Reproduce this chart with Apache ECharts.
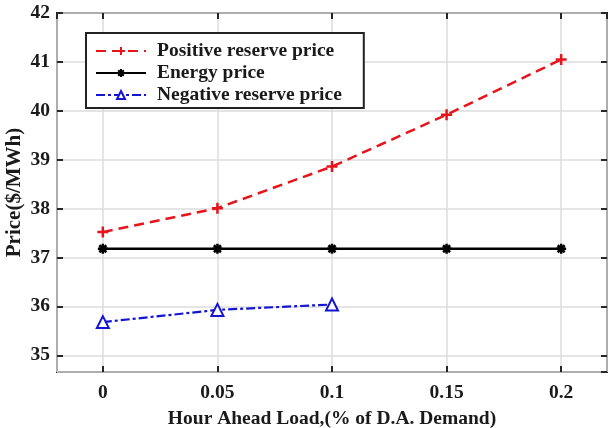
<!DOCTYPE html>
<html>
<head>
<meta charset="utf-8">
<script src="https://cdn.jsdelivr.net/npm/echarts@6/dist/echarts.min.js"></script>
<style>
  html, body { margin: 0; padding: 0; background: #fff; }
  #chart { width: 608px; height: 428px; }
</style>
</head>
<body>
<div id="chart"></div>
<script>
// Hour-ahead load levels (fraction of day-ahead demand)
const loads = [0, 0.05, 0.1, 0.15, 0.2];
// Prices in $/MWh
const positiveReserve = [37.52, 38.01, 38.86, 39.92, 41.05];
const energyPrice = [37.18, 37.18, 37.18, 37.18, 37.18];
const negativeReserve = [35.68, 35.93, 36.04];

const seriesNames = ['Positive reserve price', 'Energy price', 'Negative reserve price'];
const xTitle = 'Hour Ahead Load,(% of D.A. Demand)';
const yTitle = 'Price($/MWh)';

const FONT = '"Liberation Serif", "Times New Roman", serif';
const FS = 19.5;
const INK = '#1a1a1a';
const RED = '#e8141b';
const BLUE = '#1414d2';

const pairs = (xs, ys) => ys.map((v, i) => [xs[i], v]);

const plusSymbol = 'path://M0,-5L0,5M-5,0L5,0';
const starSymbol = 'path://M0,-5L0,5M-5,0L5,0M-3.5,-3.5L3.5,3.5M-3.5,3.5L3.5,-3.5';

const chart = echarts.init(document.getElementById('chart'), null, { renderer: 'canvas' });

const tickFmt = v => String(+v.toFixed(2));
const tickStyle = { inside: true, length: 6, lineStyle: { color: '#262626', width: 2 } };
const labelFont = { fontFamily: FONT, fontWeight: 'bold', fontSize: FS, color: INK };

chart.setOption({
  animation: false,
  backgroundColor: '#fff',
  textStyle: { fontFamily: FONT, fontWeight: 'bold', color: INK },
  grid: {
    left: 57, right: 1, top: 13, bottom: 56,
    outerBoundsMode: 'none', containLabel: false,
    show: true, borderColor: '#262626', borderWidth: 2, backgroundColor: 'transparent'
  },
  legend: {
    orient: 'vertical',
    left: 86, top: 33,
    data: seriesNames,
    backgroundColor: '#fff',
    borderColor: '#222', borderWidth: 2, borderRadius: 0,
    padding: [8, 22, 3, 9],
    itemWidth: 50, itemHeight: 10, itemGap: 2,
    textStyle: Object.assign({ padding: [0, 0, 0, 6] }, labelFont)
  },
  xAxis: [{
    type: 'value', min: -0.02, max: 0.22, splitNumber: 5,
    name: xTitle, nameLocation: 'middle', nameGap: 37,
    nameTextStyle: labelFont,
    axisLine: { show: false, onZero: false },
    axisTick: tickStyle,
    axisLabel: Object.assign({ showMinLabel: false, showMaxLabel: false, margin: 11, formatter: tickFmt }, labelFont),
    splitLine: { lineStyle: { color: '#dcdcdc', width: 1.5 } }
  }, {
    type: 'value', position: 'top', min: -0.02, max: 0.22, splitNumber: 5,
    axisLine: { show: false, onZero: false },
    axisTick: tickStyle,
    axisLabel: { show: false }, splitLine: { show: false }
  }],
  yAxis: [{
    type: 'value', min: 34.66, max: 42, splitNumber: 7,
    name: yTitle, nameLocation: 'middle', nameGap: 32, nameMoveOverlap: false,
    nameTextStyle: Object.assign({}, labelFont, { fontSize: 21 }),
    axisLine: { show: false, onZero: false },
    axisTick: tickStyle,
    axisLabel: Object.assign({ showMinLabel: false, margin: 7 }, labelFont),
    splitLine: { lineStyle: { color: '#dcdcdc', width: 1.5 } }
  }, {
    type: 'value', position: 'right', min: 34.66, max: 42, splitNumber: 7,
    axisLine: { show: false, onZero: false },
    axisTick: tickStyle,
    axisLabel: { show: false }, splitLine: { show: false }
  }],
  series: [{
    name: seriesNames[0], type: 'line',
    data: pairs(loads, positiveReserve),
    symbol: plusSymbol, symbolSize: 11, showAllSymbol: true,
    lineStyle: { color: RED, width: 2.5, type: [10, 6] },
    itemStyle: { color: 'transparent', borderColor: RED, borderWidth: 2.5 },
    z: 4
  }, {
    name: seriesNames[1], type: 'line',
    data: pairs(loads, energyPrice),
    symbol: starSymbol, symbolSize: 10, showAllSymbol: true,
    lineStyle: { color: '#000', width: 2.5 },
    itemStyle: { color: 'transparent', borderColor: '#000', borderWidth: 2.5 },
    z: 3
  }, {
    name: seriesNames[2], type: 'line',
    data: pairs(loads, negativeReserve),
    symbol: 'emptyTriangle', symbolSize: 12, showAllSymbol: true,
    lineStyle: { color: BLUE, width: 2.2, type: [9, 3, 3, 3] },
    itemStyle: { color: BLUE, borderColor: BLUE, borderWidth: 2.2 },
    z: 4
  }]
});
</script>
</body>
</html>
